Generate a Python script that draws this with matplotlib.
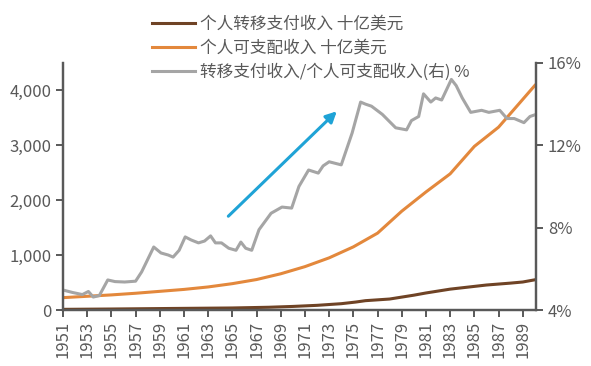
import matplotlib
matplotlib.use("Agg")
import matplotlib.pyplot as plt
from matplotlib.ticker import FuncFormatter

plt.rcParams['font.family'] = ['Noto Sans CJK SC', 'DejaVu Sans']

# 个人转移支付收入 (十亿美元)
trans_year = [1951, 1955, 1960, 1965, 1968, 1970, 1972, 1974, 1975.2, 1976, 1978,
              1980, 1981, 1983, 1985, 1986, 1988, 1989, 1990]
trans_val = [12, 18, 28, 37, 50, 65, 85, 115, 145, 170, 200,
             270, 310, 380, 430, 455, 490, 510, 550]

# 个人可支配收入 (十亿美元)
dpi_year = [1951, 1953, 1955, 1957, 1959, 1961, 1963, 1965, 1967, 1969, 1971,
            1973, 1975, 1977, 1979, 1981, 1983, 1985, 1987, 1988.7, 1990]
dpi_val = [225, 250, 275, 305, 340, 375, 420, 480, 555, 660, 790,
           950, 1150, 1400, 1800, 2150, 2480, 2980, 3330, 3760, 4090]

# 转移支付收入/个人可支配收入 (%)
ratio_year = [1951, 1951.8, 1952.6, 1953.1, 1953.5, 1954.0, 1954.7, 1955.3, 1956.1,
              1957.0, 1957.5, 1958.5, 1959.1, 1959.7, 1960.1, 1960.6, 1961.1,
              1961.6, 1962.2, 1962.7, 1963.2, 1963.6, 1964.1, 1964.7, 1965.3,
              1965.7, 1966.1, 1966.6, 1967.2, 1967.7, 1968.2, 1969.1, 1969.9,
              1970.5, 1971.3, 1972.1, 1972.5, 1973.0, 1974.0, 1974.9, 1975.6,
              1976.0, 1976.5, 1977.4, 1978.5, 1979.4, 1979.8, 1980.4, 1980.8,
              1981.4, 1981.8, 1982.3, 1983.1, 1983.5, 1984.0, 1984.7, 1985.6,
              1986.2, 1987.1, 1987.7, 1988.3, 1989.1, 1989.6, 1990.1]
ratio_val = [4.97, 4.85, 4.75, 4.9, 4.63, 4.7, 5.46, 5.38, 5.36,
             5.4, 5.85, 7.06, 6.77, 6.67, 6.57, 6.9, 7.55,
             7.4, 7.26, 7.35, 7.6, 7.26, 7.26, 7.0, 6.9,
             7.3, 7.0, 6.9, 7.9, 8.3, 8.7, 9.0, 8.95,
             10.0, 10.8, 10.65, 11.0, 11.2, 11.05, 12.6, 14.1,
             14.0, 13.9, 13.5, 12.85, 12.75, 13.2, 13.4, 14.5,
             14.1, 14.3, 14.2, 15.2, 14.9, 14.3, 13.6, 13.7,
             13.6, 13.7, 13.3, 13.3, 13.1, 13.4, 13.5]

year_ticks = list(range(1951, 1990, 2))

c_brown = '#6f4325'
c_orange = '#e3883c'
c_gray = '#a5a5a5'
c_text = '#595959'

fig = plt.figure(figsize=(5.91, 3.66), dpi=100)
ax = fig.add_axes([0.1066, 0.153, 0.8004, 0.675])
ax2 = ax.twinx()

l1, = ax.plot(trans_year, trans_val, color=c_brown, lw=2.2)
l2, = ax.plot(dpi_year, dpi_val, color=c_orange, lw=2.2)
l3, = ax2.plot(ratio_year, ratio_val, color=c_gray, lw=2.2)

ax.set_xlim(1951, 1990.1)
ax.set_ylim(0, 4500)
ax2.set_ylim(4, 16)
ax.set_yticks([0, 1000, 2000, 3000, 4000])
ax.yaxis.set_major_formatter(FuncFormatter(lambda v, p: f'{int(v):,}'))
ax2.set_yticks([4, 8, 12, 16])
ax2.yaxis.set_major_formatter(FuncFormatter(lambda v, p: f'{int(v)}%'))
ax.set_xticks(year_ticks)
ax.set_xticklabels([str(y) for y in year_ticks], rotation=90)

for a in (ax, ax2):
    a.spines['top'].set_visible(False)
    for s in ('left', 'right', 'bottom'):
        a.spines[s].set_color(c_text)
        a.spines[s].set_linewidth(1.6)
    a.tick_params(colors=c_text, labelsize=12, width=1.4, length=5, direction='out')
ax.tick_params(axis='x', pad=3)

ax.annotate('', xy=(1973.8, 3655), xytext=(1964.5, 1673),
            arrowprops=dict(arrowstyle='-|>', color='#1fa3d6', lw=2.2,
                            mutation_scale=16))

fig.legend([l1, l2, l3],
           ['个人转移支付收入 十亿美元', '个人可支配收入 十亿美元',
            '转移支付收入/个人可支配收入(右) %'],
           loc='upper left', bbox_to_anchor=(0.257, 0.957), frameon=False,
           fontsize=12, handlelength=2.6, handletextpad=0.3, labelspacing=0.42,
           labelcolor=c_text, borderaxespad=0, borderpad=0)

fig.savefig('out.png', dpi=100)
